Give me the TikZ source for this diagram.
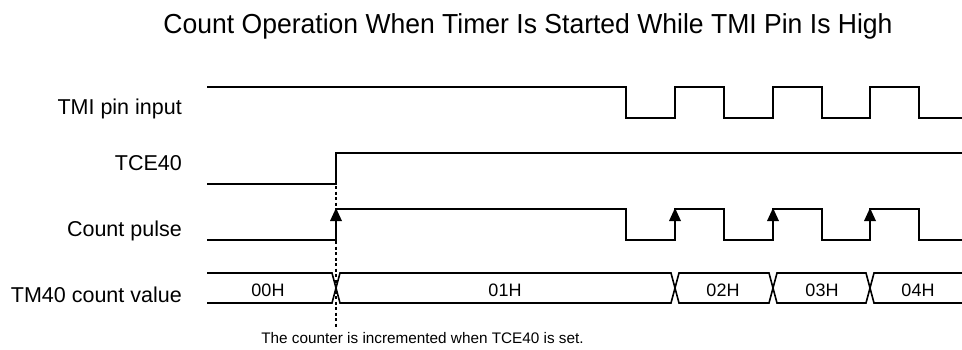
\documentclass[tikz,border=0pt]{standalone}
\usepackage{fontspec}
\setmainfont{Liberation Sans}
\begin{document}
\begin{tikzpicture}[x=1pt,y=-1pt,
  wave/.style={line width=1.6pt,line join=miter},
  siglabel/.style={anchor=base east,inner sep=0pt,font=\fontsize{21.5}{25}\selectfont},
  busval/.style={anchor=base,inner sep=0pt,font=\fontsize{18}{21}\selectfont},
  edgearrow/.style={fill=black,draw=none},
  marker/.style={line width=2pt,dash pattern=on 3pt off 2.5pt}]
\useasboundingbox (0,0) rectangle (962,349);
% title
\node[anchor=base,inner sep=0pt,font=\fontsize{27.5}{31}\selectfont] (title) at (528,33) {\scalebox{0.965}[1]{Count Operation When Timer Is Started While TMI Pin Is High}};
% labels
\node[siglabel] (lTMI) at (182,114) {TMI pin input};
\node[siglabel] (lTCE) at (182,170) {TCE40};
\node[siglabel] (lCP) at (182,236) {Count pulse};
\node[siglabel] (lTM) at (182,302) {TM40 count value};
% TMI pin input
\draw[wave] (207,87) -- (626,87) -- (626,118) -- (675,118) -- (675,87) -- (724,87) -- (724,118)
  -- (773,118) -- (773,87) -- (822,87) -- (822,118) -- (870,118) -- (870,87) -- (919,87)
  -- (919,118) -- (962,118);
% TCE40
\draw[wave] (207,184) -- (336,184) -- (336,153) -- (962,153);
% Count pulse
\draw[wave] (207,240) -- (336,240) -- (336,209) -- (626,209) -- (626,240) -- (675,240) -- (675,209)
  -- (724,209) -- (724,240) -- (773,240) -- (773,209) -- (822,209) -- (822,240) -- (870,240)
  -- (870,209) -- (919,209) -- (919,240) -- (962,240);
\foreach \ax in {336,675,773,870}{
  \fill[edgearrow] (\ax,208) -- (\ax-6,221) -- (\ax+6,221) -- cycle;
}
% Bus
\draw[wave] (207,273) -- (332,273) -- (340,303) -- (671,303) -- (679,273) -- (769,273) -- (777,303)
  -- (866,303) -- (874,273) -- (962,273);
\draw[wave] (207,303) -- (332,303) -- (340,273) -- (671,273) -- (679,303) -- (769,303) -- (777,273)
  -- (866,273) -- (874,303) -- (962,303);
\node[busval] (v0) at (268,296.5) {00H};
\node[busval] (v1) at (505,296.5) {01H};
\node[busval] (v2) at (723,296.5) {02H};
\node[busval] (v3) at (822,296.5) {03H};
\node[busval] (v4) at (918,296.5) {04H};
% marker
\coordinate (mtop) at (336,186);
\coordinate (mbot) at (336,327);
\draw[marker] (mtop) -- (mbot);
\node[anchor=base,inner sep=0pt,font=\fontsize{15.3}{18}\selectfont] (caption) at (422.5,343) {The counter is incremented when TCE40 is set.};
\end{tikzpicture}
\end{document}
